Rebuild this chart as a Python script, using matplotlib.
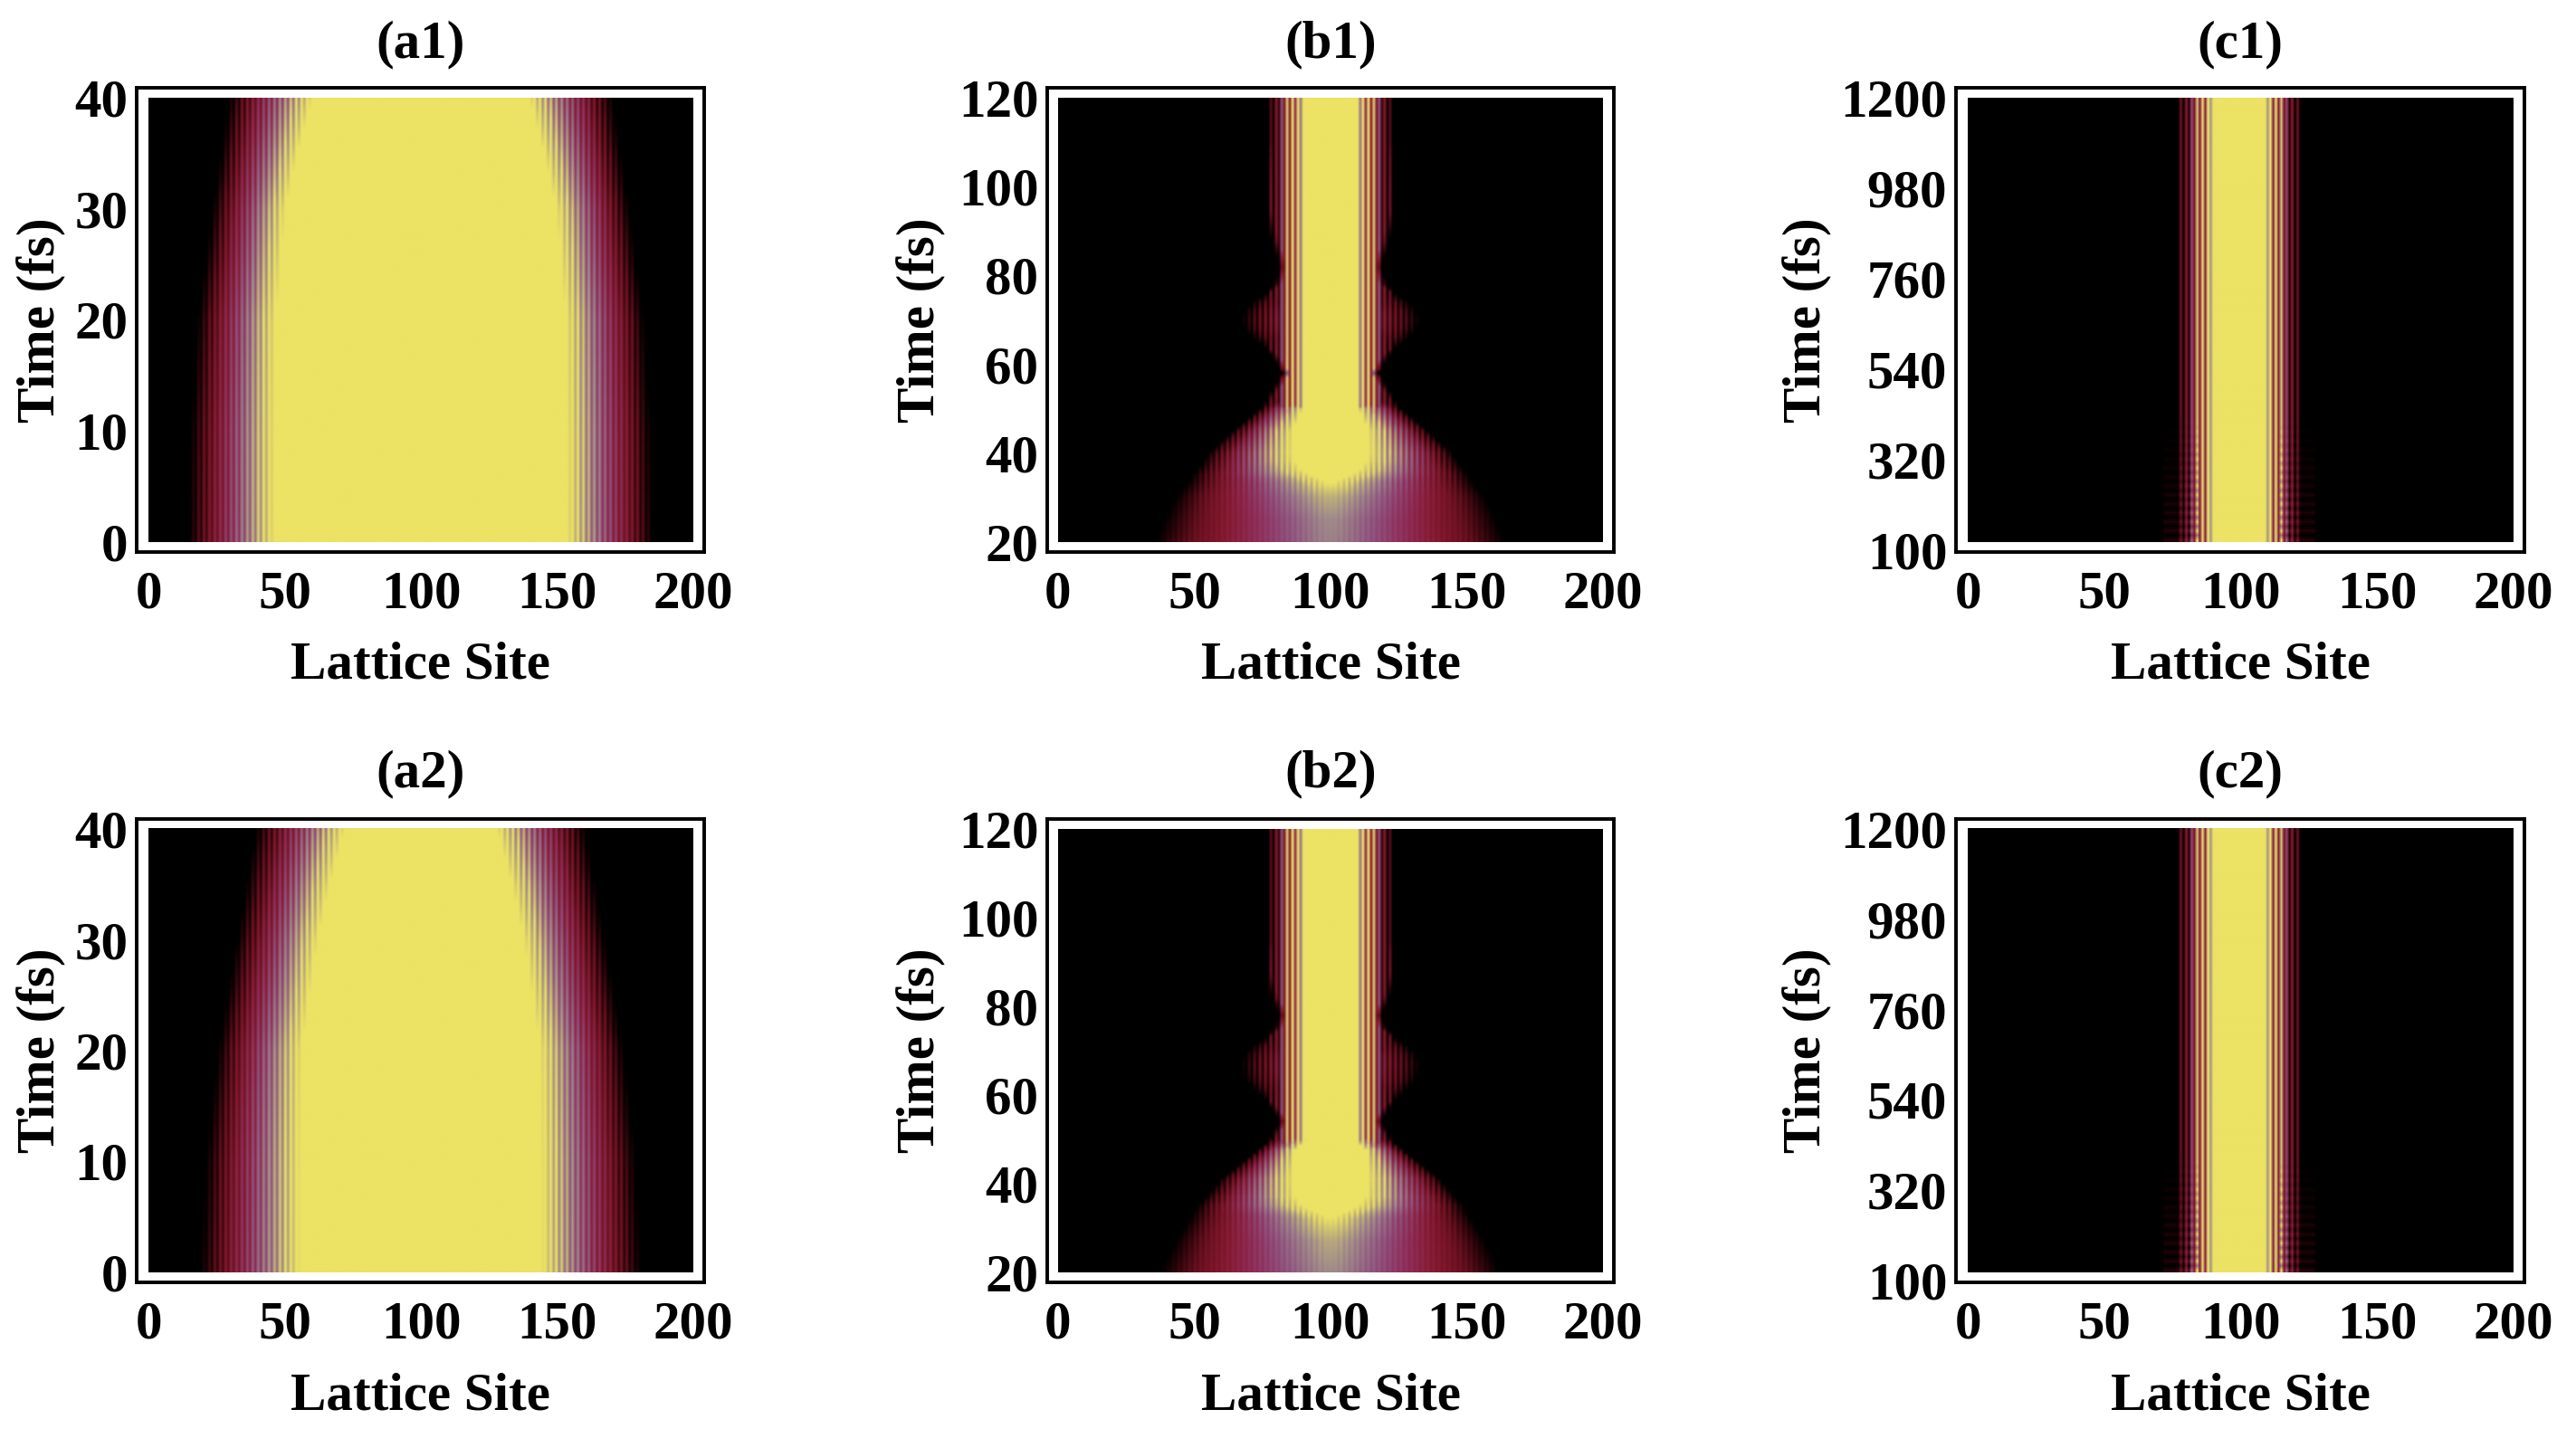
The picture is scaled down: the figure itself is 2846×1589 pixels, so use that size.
"""Six lattice-site / time density maps, a1-c2."""
import numpy as np
import matplotlib
matplotlib.use("Agg")
matplotlib.rcParams.update({
    "font.family": ["Liberation Serif", "DejaVu Serif"],
    "font.weight": "bold",
    "font.size": 42.5,
})
import matplotlib.pyplot as plt
from matplotlib.colors import LinearSegmentedColormap

W, H = 2846, 1589

x_ticks = [0, 50, 100, 150, 200]
a_ticks = [0, 10, 20, 30, 40]
b_ticks = [20, 40, 60, 80, 100, 120]
c_ticks = [100, 320, 540, 760, 980, 1200]

# left edge of the pattern: where the colour starts (outer),
# where it saturates (inner), the top level reached, how strong the odd/even
# site stripes are, and how much of the steady stripe core is showing
a1_times = [0, 10, 20, 30, 35, 40]
a1_outer = [14, 15, 17.5, 23, 26, 29]
a1_inner = [46, 46, 46.5, 50, 54.5, 60]
a1_peak = [1, 1, 1, 1, 1, 1]
a1_stripe = [0.18, 0.18, 0.18, 0.2, 0.22, 0.24]
a1_core = [0, 0, 0, 0, 0, 0]

a2_times = [0, 10, 20, 30, 35, 40]
a2_outer = [18.5, 20.5, 25, 32, 35.5, 39]
a2_inner = [55.5, 55.5, 56, 62, 66.5, 72]
a2_peak = [1, 1, 1, 1, 1, 1]
a2_stripe = [0.18, 0.18, 0.18, 0.2, 0.22, 0.24]
a2_core = [0, 0, 0, 0, 0, 0]

b1_times = [20, 25, 30, 33, 34, 35, 36, 38, 40, 45, 50, 55, 58, 62, 64, 66, 68, 70, 72, 74, 76, 78, 82, 88, 95, 100, 110, 120]
b1_outer = [35.5, 39, 43, 47, 48, 49, 50.5, 53, 55, 64, 74, 80, 83, 79, 75, 71, 68, 67, 68, 71, 76, 80, 82, 79, 76, 76, 77, 77]
b1_inner = [100, 100, 100, 100, 97, 93, 90, 87, 86, 86, 90, 120, 120, 120, 120, 120, 120, 120, 120, 120, 120, 120, 120, 120, 120, 120, 120, 120]
b1_peak = [0.75, 0.78, 0.88, 1, 1, 1, 1, 1, 1, 1, 1, 1, 1, 1, 1, 1, 1, 1, 1, 1, 1, 1, 1, 1, 1, 1, 1, 1]
b1_stripe = [0.06, 0.06, 0.08, 0.12, 0.14, 0.16, 0.18, 0.22, 0.25, 0.3, 0.3, 0.3, 0.3, 0.3, 0.3, 0.3, 0.3, 0.3, 0.3, 0.3, 0.3, 0.3, 0.3, 0.3, 0.3, 0.3, 0.3, 0.3]
b1_core = [0, 0, 0, 0, 0, 0, 0, 0, 0.3, 0.9, 1, 1, 1, 1, 1, 1, 1, 1, 1, 1, 1, 1, 1, 1, 1, 1, 1, 1]

b2_times = [20, 27, 32, 33, 34, 35, 37, 41, 47.5, 50, 54, 57, 61, 63, 65, 67, 69, 71, 73, 75, 78, 82, 88, 95, 102, 120]
b2_outer = [37.5, 43, 48, 49, 50, 51, 54, 59.5, 73, 78, 82, 79, 72, 69, 67.5, 67, 68, 71, 76, 80, 82, 79, 76, 77, 77, 77]
b2_inner = [100, 100, 100, 97, 93, 90, 87, 86, 87, 92, 120, 120, 120, 120, 120, 120, 120, 120, 120, 120, 120, 120, 120, 120, 120, 120]
b2_peak = [0.78, 0.86, 1, 1, 1, 1, 1, 1, 1, 1, 1, 1, 1, 1, 1, 1, 1, 1, 1, 1, 1, 1, 1, 1, 1, 1]
b2_stripe = [0.06, 0.07, 0.1, 0.12, 0.14, 0.16, 0.2, 0.25, 0.3, 0.3, 0.3, 0.3, 0.3, 0.3, 0.3, 0.3, 0.3, 0.3, 0.3, 0.3, 0.3, 0.3, 0.3, 0.3, 0.3, 0.3]
b2_core = [0, 0, 0, 0, 0, 0, 0, 0.3, 0.9, 1, 1, 1, 1, 1, 1, 1, 1, 1, 1, 1, 1, 1, 1, 1, 1, 1]

# steady stripe core of the b panels, sites 76..91
core_sites = [76, 77, 78, 79, 80, 81, 82, 83, 84, 85, 86, 87, 88, 89, 90, 91]
core_level = [0, 0, 0.25, 0.03, 0.33, 0.1, 0.6, 0.3, 0.95, 0.35, 1, 0.45, 1, 0.72, 1, 1]

# steady stripe profile of the c panels, sites 76..90
c_sites = [76, 77, 78, 79, 80, 81, 82, 83, 84, 85, 86, 87, 88, 89, 90]
c_level = [0, 0, 0.2, 0.02, 0.33, 0.08, 0.55, 0.3, 0.92, 0.38, 0.97, 0.42, 1, 0.82, 1]
# early ripple strength in the c panels
c1_ripple_t = [120, 180, 250, 330, 420, 1200]
c1_ripple_a = [0.22, 0.2, 0.14, 0.08, 0, 0]
c2_ripple_t = [120, 180, 250, 330, 400, 1200]
c2_ripple_a = [0.22, 0.2, 0.14, 0.07, 0, 0]

cmap = LinearSegmentedColormap.from_list("dens", [
    (0.0, "#000000"), (0.08, "#2a0409"), (0.2, "#6a1020"), (0.33, "#85192f"),
    (0.48, "#8f2f5c"), (0.62, "#8f5480"), (0.78, "#a08b8a"), (0.9, "#c6b874"),
    (1.0, "#ece264"),
])

sites = np.arange(201)


def ab_map(times, outer, inner, peak, stripe, core, curve):
    t = np.linspace(times[0], times[-1], 400)
    d = np.minimum(sites, 200 - sites)[None, :]
    o = np.interp(t, times, outer)[:, None]
    i = np.interp(t, times, inner)[:, None]
    p = np.interp(t, times, peak)[:, None]
    c = np.interp(t, times, stripe)[:, None]
    w = np.interp(t, times, core)[:, None]
    s = np.clip((d - o) / (i - o), 0, 1) ** curve
    even = np.clip(s * (1 + c), 0, 1)
    odd = s ** (1 + 2.5 * c)
    ramp = np.where(sites % 2 == 0, even, odd) * p
    gate = np.clip((d - o + 1) / 3, 0, 1)
    steady = np.interp(d, core_sites, core_level)
    return np.maximum(ramp, w * gate * steady)


def c_map(ripple_t, ripple_a):
    t = np.arange(120, 1201, 11.0)
    d = np.minimum(sites, 199 - sites)
    base = np.interp(d, c_sites, c_level)
    amp = np.interp(t, ripple_t, ripple_a)
    sign = np.where(np.arange(len(t)) % 2 == 0, 1, -1)
    shell = (d >= 72) & (d <= 84)
    out = base[None, :] + (amp * sign)[:, None] * shell[None, :] * np.maximum(base, 0.3)
    return np.clip(out, 0, 1)


panels = [
    ("(a1)", ab_map(a1_times, a1_outer, a1_inner, a1_peak, a1_stripe, a1_core, 0.95), (0, 40), a_ticks, 0, 0),
    ("(b1)", ab_map(b1_times, b1_outer, b1_inner, b1_peak, b1_stripe, b1_core, 0.85), (20, 120), b_ticks, 0, 1),
    ("(c1)", c_map(c1_ripple_t, c1_ripple_a), (120, 1200), c_ticks, 0, 2),
    ("(a2)", ab_map(a2_times, a2_outer, a2_inner, a2_peak, a2_stripe, a2_core, 0.95), (0, 40), a_ticks, 1, 0),
    ("(b2)", ab_map(b2_times, b2_outer, b2_inner, b2_peak, b2_stripe, b2_core, 0.85), (20, 120), b_ticks, 1, 1),
    ("(c2)", c_map(c2_ripple_t, c2_ripple_a), (120, 1200), c_ticks, 1, 2),
]

# pixel boxes: frame and image, per column / row
frame_x = [(151, 778), (1157, 1783), (2161, 2789)]
image_x = [(164, 766), (1169, 1771), (2174, 2777)]
frame_y = [(97, 610), (905, 1417)]
image_y = [(108, 599), (916, 1406)]
title_y = [49, 855]
xlabel_y = [736, 1544]
ylabel_x = [46, 1018, 1997]

fig = plt.figure(figsize=(W / 100, H / 100), dpi=100, facecolor="white")
for title, Z, (t0, t1), yticks, r, col in panels:
    fx0, fx1 = frame_x[col]
    ix0, ix1 = image_x[col]
    fy0, fy1 = frame_y[r]
    iy0, iy1 = image_y[r]
    ax = fig.add_axes([fx0 / W, 1 - fy1 / H, (fx1 - fx0) / W, (fy1 - fy0) / H])
    sx = 200 / (ix1 - ix0)
    sy = (t1 - t0) / (iy1 - iy0)
    ax.imshow(Z, origin="lower", extent=[0, 200, t0, t1], aspect="auto", cmap=cmap,
              vmin=0, vmax=1, interpolation="bilinear")
    ax.set_xlim(-(ix0 - fx0) * sx, 200 + (fx1 - ix1) * sx)
    ax.set_ylim(t0 - (fy1 - iy1) * sy, t1 + (iy0 - fy0) * sy)
    ax.set_xticks(x_ticks)
    ax.set_yticks(yticks)
    ax.tick_params(axis="x", length=0, pad=15)
    ax.tick_params(axis="y", length=0, pad=7)
    for sp in ax.spines.values():
        sp.set_linewidth(2.8)
    fig.text((fx0 + fx1) / 2 / W, 1 - title_y[r] / H, title, ha="center", va="center")
    fig.text((fx0 + fx1) / 2 / W, 1 - xlabel_y[r] / H, "Lattice Site", ha="center", va="center")
    fig.text(ylabel_x[col] / W, 1 - (iy0 + iy1) / 2 / H, "Time (fs)", rotation=90, ha="center", va="center")

fig.savefig("out.png", dpi=100)
